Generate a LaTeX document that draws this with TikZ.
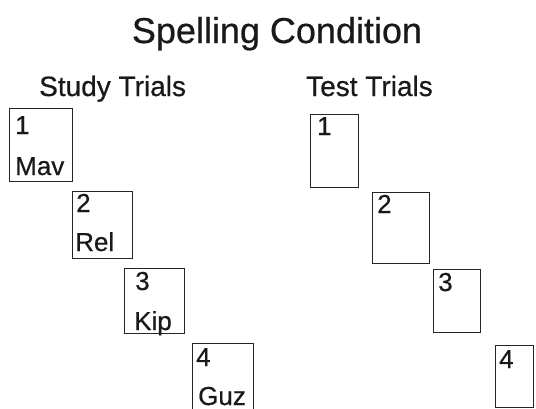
\documentclass[tikz,border=0pt]{standalone}
\usepackage{fontspec}
\setmainfont{Liberation Sans}[FakeBold=0.6]
\tikzset{
  card/.style={draw=black!85, line width=1pt, anchor=north west, inner sep=0pt},
  lbl/.style={anchor=base west, inner sep=0pt, font=\fontsize{26}{30}\selectfont, text=black!90},
  head/.style={anchor=base west, inner sep=0pt, font=\fontsize{28}{32}\selectfont, text=black!90},
  ttl/.style={anchor=base, inner sep=0pt, font=\fontsize{36}{42}\selectfont, text=black!90}
}
\begin{document}
\begin{tikzpicture}[x=1pt,y=-1pt]
\useasboundingbox (0,0) rectangle (536,408);
\node[ttl] (title) at (277,43) {Spelling Condition};
\node[head] (study) at (39,96) {Study Trials};
\node[head] (test) at (306,96) {Test Trials};
% study cards
\node[card, minimum width=63pt, minimum height=73pt] (s1) at (9,108) {};
\node[card, minimum width=60pt, minimum height=67pt] (s2) at (72,191) {};
\node[card, minimum width=60pt, minimum height=65pt] (s3) at (124,268) {};
\node[card, minimum width=61pt, minimum height=75pt] (s4) at (192,343) {};
\node[lbl] (s1n) at (15,134) {1};
\node[lbl] (s1w) at (15,175) {Mav};
\node[lbl] (s2n) at (76,212) {2};
\node[lbl] (s2w) at (75,251) {Rel};
\node[lbl] (s3n) at (135,290) {3};
\node[lbl] (s3w) at (134,330) {Kip};
\node[lbl] (s4n) at (196,366) {4};
\node[lbl] (s4w) at (198,405) {Guz};
% test cards
\node[card, minimum width=48pt, minimum height=73pt] (t1) at (310,114) {};
\node[card, minimum width=57pt, minimum height=71pt] (t2) at (372,192) {};
\node[card, minimum width=47pt, minimum height=63pt] (t3) at (433,269) {};
\node[card, minimum width=38pt, minimum height=62pt] (t4) at (495,345) {};
\node[lbl] (t1n) at (317,135) {1};
\node[lbl] (t2n) at (377,213) {2};
\node[lbl] (t3n) at (438,291) {3};
\node[lbl] (t4n) at (499,368) {4};
\end{tikzpicture}
\end{document}
